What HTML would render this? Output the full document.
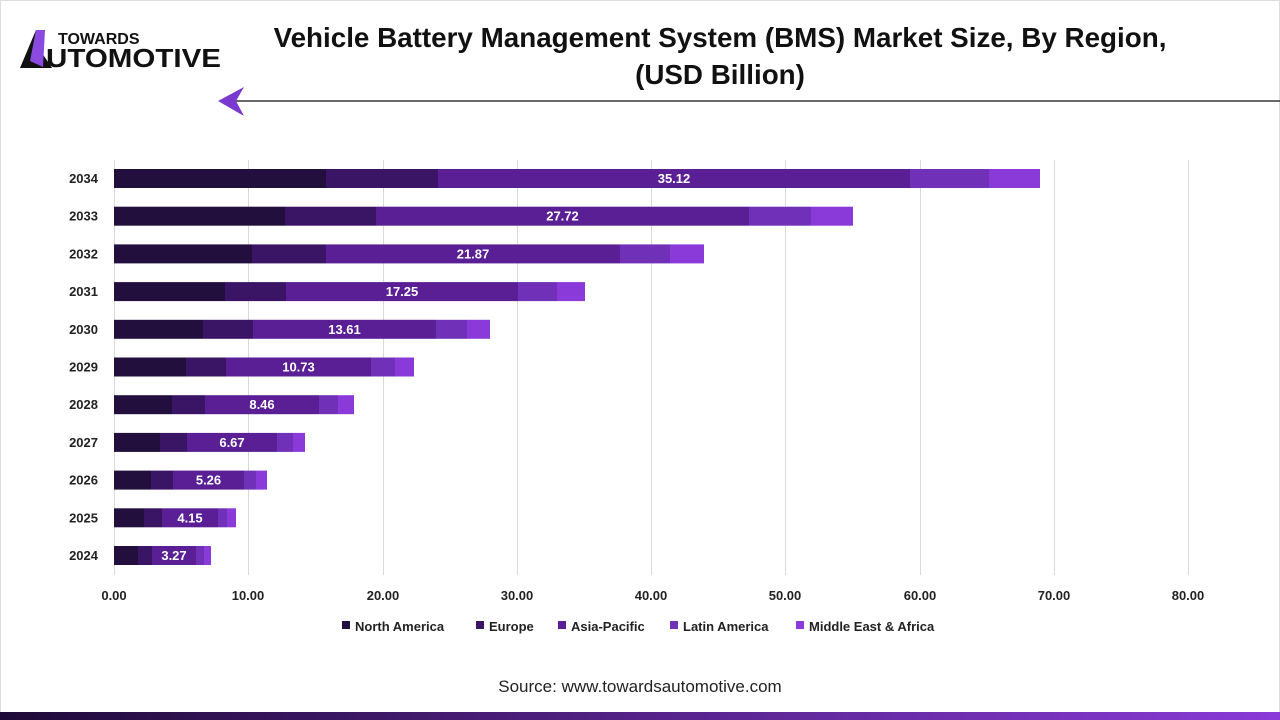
<!DOCTYPE html>
<html><head><meta charset="utf-8"><style>
body{margin:0;width:1280px;height:720px;background:#fff;font-family:"Liberation Sans",sans-serif;position:relative;overflow:hidden}
.t{position:absolute;left:250px;width:940px;text-align:center;font-weight:bold;font-size:27.8px;color:#111;line-height:37px;top:19px}
</style></head><body>
<div style="position:absolute;inset:0;border:1px solid #ddd"></div>
<div class="t">Vehicle Battery Management System (BMS) Market Size, By Region,<br>(USD Billion)</div>
<svg width="1280" height="720" style="position:absolute;left:0;top:0" font-family="Liberation Sans, sans-serif">
<polygon points="20,68 36,30 45,30 40,50 52,68" fill="#111"/>
<polygon points="36,30 45,30 43,67 30,61" fill="#8a4ae0"/>
<text x="58" y="44" font-size="16" font-weight="900" fill="#111">TOWARDS</text>
<text x="46" y="67" font-size="26" font-weight="900" fill="#111" textLength="175" lengthAdjust="spacingAndGlyphs">UTOMOTIVE</text>
<line x1="232" y1="101" x2="1280" y2="101" stroke="#111" stroke-width="1.2"/>
<polygon points="218,101 244,87 236,101 244,116" fill="#7a3ad0"/>
<g stroke="#d9d9d9" stroke-width="1">
<line x1="114.5" y1="160" x2="114.5" y2="575"/><line x1="248.5" y1="160" x2="248.5" y2="575"/><line x1="383.5" y1="160" x2="383.5" y2="575"/><line x1="517.5" y1="160" x2="517.5" y2="575"/><line x1="651.5" y1="160" x2="651.5" y2="575"/><line x1="785.5" y1="160" x2="785.5" y2="575"/><line x1="920.5" y1="160" x2="920.5" y2="575"/><line x1="1054.5" y1="160" x2="1054.5" y2="575"/><line x1="1188.5" y1="160" x2="1188.5" y2="575"/>
</g>
<g font-size="13" font-weight="bold" fill="#222" text-anchor="middle">
<text x="114" y="600">0.00</text><text x="248" y="600">10.00</text><text x="383" y="600">20.00</text><text x="517" y="600">30.00</text><text x="651" y="600">40.00</text><text x="785" y="600">50.00</text><text x="920" y="600">60.00</text><text x="1054" y="600">70.00</text><text x="1188" y="600">80.00</text>
</g>
<g id="bars"></g>
<g font-size="13" font-weight="bold" fill="#222">
<rect x="342" y="621" width="8" height="8" fill="#220f3e"/><text x="355" y="631">North America</text>
<rect x="476" y="621" width="8" height="8" fill="#3a1565"/><text x="489" y="631">Europe</text>
<rect x="558" y="621" width="8" height="8" fill="#5a1f95"/><text x="571" y="631">Asia-Pacific</text>
<rect x="670" y="621" width="8" height="8" fill="#7030b8"/><text x="683" y="631">Latin America</text>
<rect x="796" y="621" width="8" height="8" fill="#8a3ad8"/><text x="809" y="631">Middle East &amp; Africa</text>
</g>
<text x="640" y="692" font-size="17" fill="#222" text-anchor="middle">Source: www.towardsautomotive.com</text>
<defs><linearGradient id="g"><stop offset="0" stop-color="#1e0a38"/><stop offset="1" stop-color="#8a3ad8"/></linearGradient></defs>
<rect x="0" y="712" width="1280" height="8" fill="url(#g)"/>
</svg>
<script>
var d=[["2034",[326,438,910,989,1040],"35.12"],["2033",[285,376,749,811,853],"27.72"],["2032",[252,326,620,670,704],"21.87"],["2031",[225,286,518,557,585],"17.25"],["2030",[203,253,436,467,490],"13.61"],["2029",[186,226,371,395,414],"10.73"],["2028",[172,205,319,338,354],"8.46"],["2027",[160,187,277,293,305],"6.67"],["2026",[151,173,244,256,267],"5.26"],["2025",[144,162,218,227,236],"4.15"],["2024",[138,152,196,204,211],"3.27"]];
var c=["#220f3e","#3a1565","#5a1f95","#7030b8","#8a3ad8"],s="";
d.forEach(function(r,i){var y=169+i*37.7,x=114;
s+='<text x="98" y="'+(y+14)+'" font-size="13" font-weight="bold" fill="#222" text-anchor="end">'+r[0]+'</text>';
r[1].forEach(function(e,j){s+='<rect x="'+x+'" y="'+y+'" width="'+(e-x)+'" height="19" fill="'+c[j]+'"/>';x=e;});
var m=(r[1][1]+r[1][2])/2;s+='<text x="'+m+'" y="'+(y+14)+'" font-size="13" font-weight="bold" fill="#fff" text-anchor="middle">'+r[2]+'</text>';});
document.getElementById("bars").innerHTML=s;
</script>
</body></html>
